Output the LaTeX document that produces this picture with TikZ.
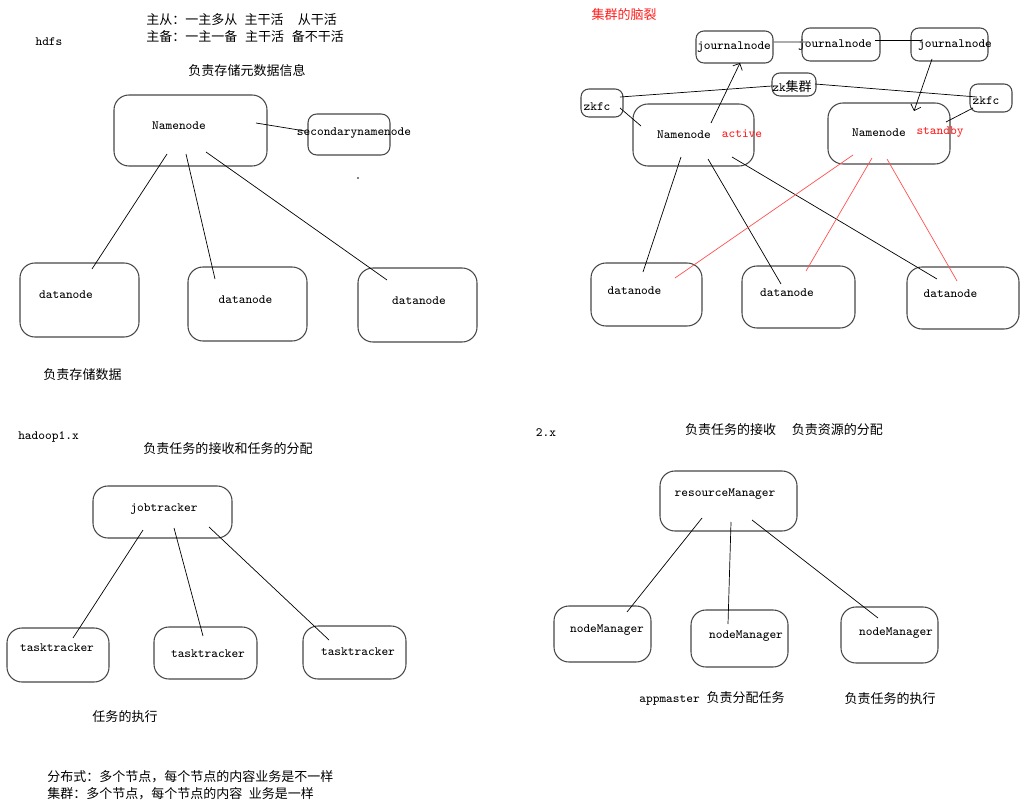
\documentclass[tikz,border=0pt]{standalone}
\usepackage{fontspec}
\newfontfamily\cjk{Noto Sans CJK SC}
\usetikzlibrary{fit,arrows.meta}
\definecolor{boxgray}{RGB}{70,70,70}
\definecolor{splitred}{RGB}{255,30,30}
\definecolor{redline}{RGB}{255,80,80}
\newcommand\zhtext[1]{{\cjk\fontsize{7.4}{9}\selectfont #1}}

\begin{document}
\begin{tikzpicture}[x=0.02cm,y=-0.02cm,
    box/.style={draw=boxgray,line width=0.6pt,rounded corners=8.5pt,inner sep=0pt},
    smallbox/.style={box,rounded corners=4.5pt},
    lbl/.style={font=\fontsize{7.2}{8}\selectfont\ttfamily,inner sep=0pt},
    zh/.style={font=\fontsize{7.4}{9}\selectfont\cjk,inner sep=0pt},
    link/.style={line width=0.4pt},
    graylink/.style={draw=gray,line width=0.6pt},
    redlink/.style={draw=redline,line width=0.4pt},
    >={Straight Barb[length=3pt,width=6pt]}]
  \useasboundingbox (0,0) rectangle (1023,807);

  % hdfs
  \node[lbl] (hdfs) at (49,42) {hdfs};
  \node[zh,anchor=west] (ms1) at (146,20) {主从：一主多从\hspace{0.55em}主干活\hspace{1.1em}从干活};
  \node[zh,anchor=west] (ms2) at (146,37) {主备：一主一备\hspace{0.6em}主干活\hspace{0.6em}备不干活};
  \node[zh] (metaT) at (247,71) {负责存储元数据信息};
  \node[box,fit={(114,95) (267,166)}] (nn) {};
  \node[lbl] (nnT) at (179,126) {Namenode};
  \node[box,rounded corners=5pt,fit={(308,114) (390,155)}] (snn) {};
  \node[lbl] (snnT) at (354,133) {secondarynamenode};
  \fill (358,178) circle (0.45pt);
  \node[box,fit={(20,263) (139,337)}] (dn1) {};
  \node[box,fit={(188,267) (307,341)}] (dn2) {};
  \node[box,fit={(358,268) (477,342)}] (dn3) {};
  \node[lbl] (dn1T) at (66,295) {datanode};
  \node[lbl] (dn2T) at (245.5,300) {datanode};
  \node[lbl] (dn3T) at (419,301) {datanode};
  \node[zh] (dataT) at (82.5,375) {负责存储数据};
  \draw[link] ([shift={(65.5,-7.5)}]nn.center) -- ([shift={(-44,-3.5)}]snn.center);
  \draw[link] ([shift={(-23.5,23.5)}]nn.center) -- ([shift={(12.5,-31)}]dn1.center);
  \draw[link] ([shift={(-4.5,23.5)}]nn.center) -- ([shift={(-32.5,-25)}]dn2.center);
  \draw[link] ([shift={(15.5,21.5)}]nn.center) -- ([shift={(-30.5,-25)}]dn3.center);

  % split brain
  \node[zh,text=splitred] (splitT) at (624,15) {集群的脑裂};
  \node[smallbox,fit={(696,31) (773,63)}] (jn1) {};
  \node[smallbox,fit={(802,28) (880,61)}] (jn2) {};
  \node[smallbox,fit={(911,28) (988,61)}] (jn3) {};
  \node[lbl] (jn1T) at (734,47) {journalnode};
  \node[lbl] (jn2T) at (835,45) {journalnode};
  \node[lbl] (jn3T) at (955,45) {journalnode};
  \node[smallbox,fit={(772,73) (816,96)}] (zk) {};
  \node[lbl] (zkT) at (792,87) {zk\zhtext{集群}};
  \node[smallbox,fit={(581,89) (623,117)}] (zkfcL) {};
  \node[smallbox,fit={(970,84) (1012,112)}] (zkfcR) {};
  \node[lbl] (zkfcLT) at (597,107) {zkfc};
  \node[lbl] (zkfcRT) at (986,101) {zkfc};
  \node[box,fit={(633,104) (754,166)}] (nnA) {};
  \node[box,fit={(828,103) (950,164)}] (nnS) {};
  \node[lbl] (nnAT) at (684,135) {Namenode};
  \node[lbl,text=splitred] (actT) at (742,134) {active};
  \node[lbl] (nnST) at (879,133) {Namenode};
  \node[lbl,text=splitred] (sbyT) at (940,132) {standby};
  \node[box,fit={(591,263) (702,326)}] (rdn1) {};
  \node[box,fit={(742,266) (855,328)}] (rdn2) {};
  \node[box,fit={(907,267) (1019,329)}] (rdn3) {};
  \node[lbl] (rdn1T) at (634.5,291) {datanode};
  \node[lbl] (rdn2T) at (787,293) {datanode};
  \node[lbl] (rdn3T) at (950.5,294) {datanode};
  \draw[graylink] ([shift={(38.5,-5)}]jn1.center) -- ([shift={(-34,-2.5)}]jn2.center);
  \draw[link] ([shift={(34,-4.5)}]jn2.center) -- ([shift={(-27.5,-4.5)}]jn3.center);
  \draw[link] ([shift={(18,-6)}]zkfcL.center) -- ([shift={(-22,1.5)}]zk.center);
  \draw[link] ([shift={(21,-0.5)}]zk.center) -- ([shift={(-14,-1)}]zkfcR.center);
  \draw[link] ([shift={(18,5)}]zkfcL.center) -- ([shift={(-52.5,-9)}]nnA.center);
  \draw[link] ([shift={(-18,10)}]zkfcR.center) -- ([shift={(57,-11.5)}]nnS.center);
  \draw[link,->] ([shift={(17.5,-12)}]nnA.center) -- ([shift={(5.5,16)}]jn1.center);
  \draw[link,->] ([shift={(-17.5,14.5)}]jn3.center) -- ([shift={(25,-22.5)}]nnS.center);
  \draw[link] ([shift={(-12.5,22)}]nnA.center) -- ([shift={(-3.5,-22.5)}]rdn1.center);
  \draw[link] ([shift={(14.5,24)}]nnA.center) -- ([shift={(-17.5,-13)}]rdn2.center);
  \draw[link] ([shift={(38.5,22)}]nnA.center) -- ([shift={(-26,-19)}]rdn3.center);
  \draw[redlink] ([shift={(-36,21.5)}]nnS.center) -- ([shift={(28.5,-16.5)}]rdn1.center);
  \draw[redlink] ([shift={(-17,24.5)}]nnS.center) -- ([shift={(7.5,-26)}]rdn2.center);
  \draw[redlink] ([shift={(-2,25.5)}]nnS.center) -- ([shift={(-6,-17)}]rdn3.center);

  % hadoop1.x
  \node[lbl] (h1T) at (48.5,437) {hadoop1.x};
  \node[zh] (jtTask) at (228,449) {负责任务的接收和任务的分配};
  \node[box,fit={(93,486) (232,538)}] (jt) {};
  \node[lbl] (jtT) at (164,509) {jobtracker};
  \node[box,fit={(7,628) (109,682)}] (tt1) {};
  \node[box,fit={(154,627) (257,679)}] (tt2) {};
  \node[box,fit={(303,626) (406,679)}] (tt3) {};
  \node[lbl] (tt1T) at (57,648) {tasktracker};
  \node[lbl] (tt2T) at (208,654) {tasktracker};
  \node[lbl] (tt3T) at (358,652) {tasktracker};
  \node[zh] (ttTask) at (125,717) {任务的执行};
  \draw[link] ([shift={(-19.5,18)}]jt.center) -- ([shift={(15,-17)}]tt1.center);
  \draw[link] ([shift={(11.5,16)}]jt.center) -- ([shift={(-2.5,-17)}]tt2.center);
  \draw[link] ([shift={(46.5,15)}]jt.center) -- ([shift={(-25.5,-12.5)}]tt3.center);
  \node[zh,anchor=west] (distT) at (47,777) {分布式：多个节点，每个节点的内容业务是不一样};
  \node[zh,anchor=west] (clusT) at (47,794) {集群：多个节点，每个节点的内容\hspace{0.5em}业务是一样};

  % 2.x
  \node[lbl] (h2T) at (546,433) {2.x};
  \node[zh] (rmTask) at (784,430) {负责任务的接收\hspace{1.2em}负责资源的分配};
  \node[box,fit={(660,471) (797,531)}] (rm) {};
  \node[lbl] (rmT) at (725,494) {resourceManager};
  \node[box,fit={(554,606) (651,662)}] (nm1) {};
  \node[box,fit={(691,610) (788,667)}] (nm2) {};
  \node[box,fit={(841,607) (938,663)}] (nm3) {};
  \node[lbl] (nm1T) at (607,630) {nodeManager};
  \node[lbl] (nm2T) at (746,636) {nodeManager};
  \node[lbl] (nm3T) at (896,633) {nodeManager};
  \draw[link] ([shift={(-26.5,17)}]rm.center) -- ([shift={(24.5,-22)}]nm1.center);
  \draw[link] ([shift={(2.5,21)}]rm.center) -- ([shift={(-11.5,-14.5)}]nm2.center);
  \draw[link] ([shift={(23.5,19)}]rm.center) -- ([shift={(-11.5,-17)}]nm3.center);
  \node[lbl,anchor=west] (amT) at (639,698) {appmaster \zhtext{负责分配任务}};
  \node[zh] (nmTask) at (890,699) {负责任务的执行};
\end{tikzpicture}
\end{document}
